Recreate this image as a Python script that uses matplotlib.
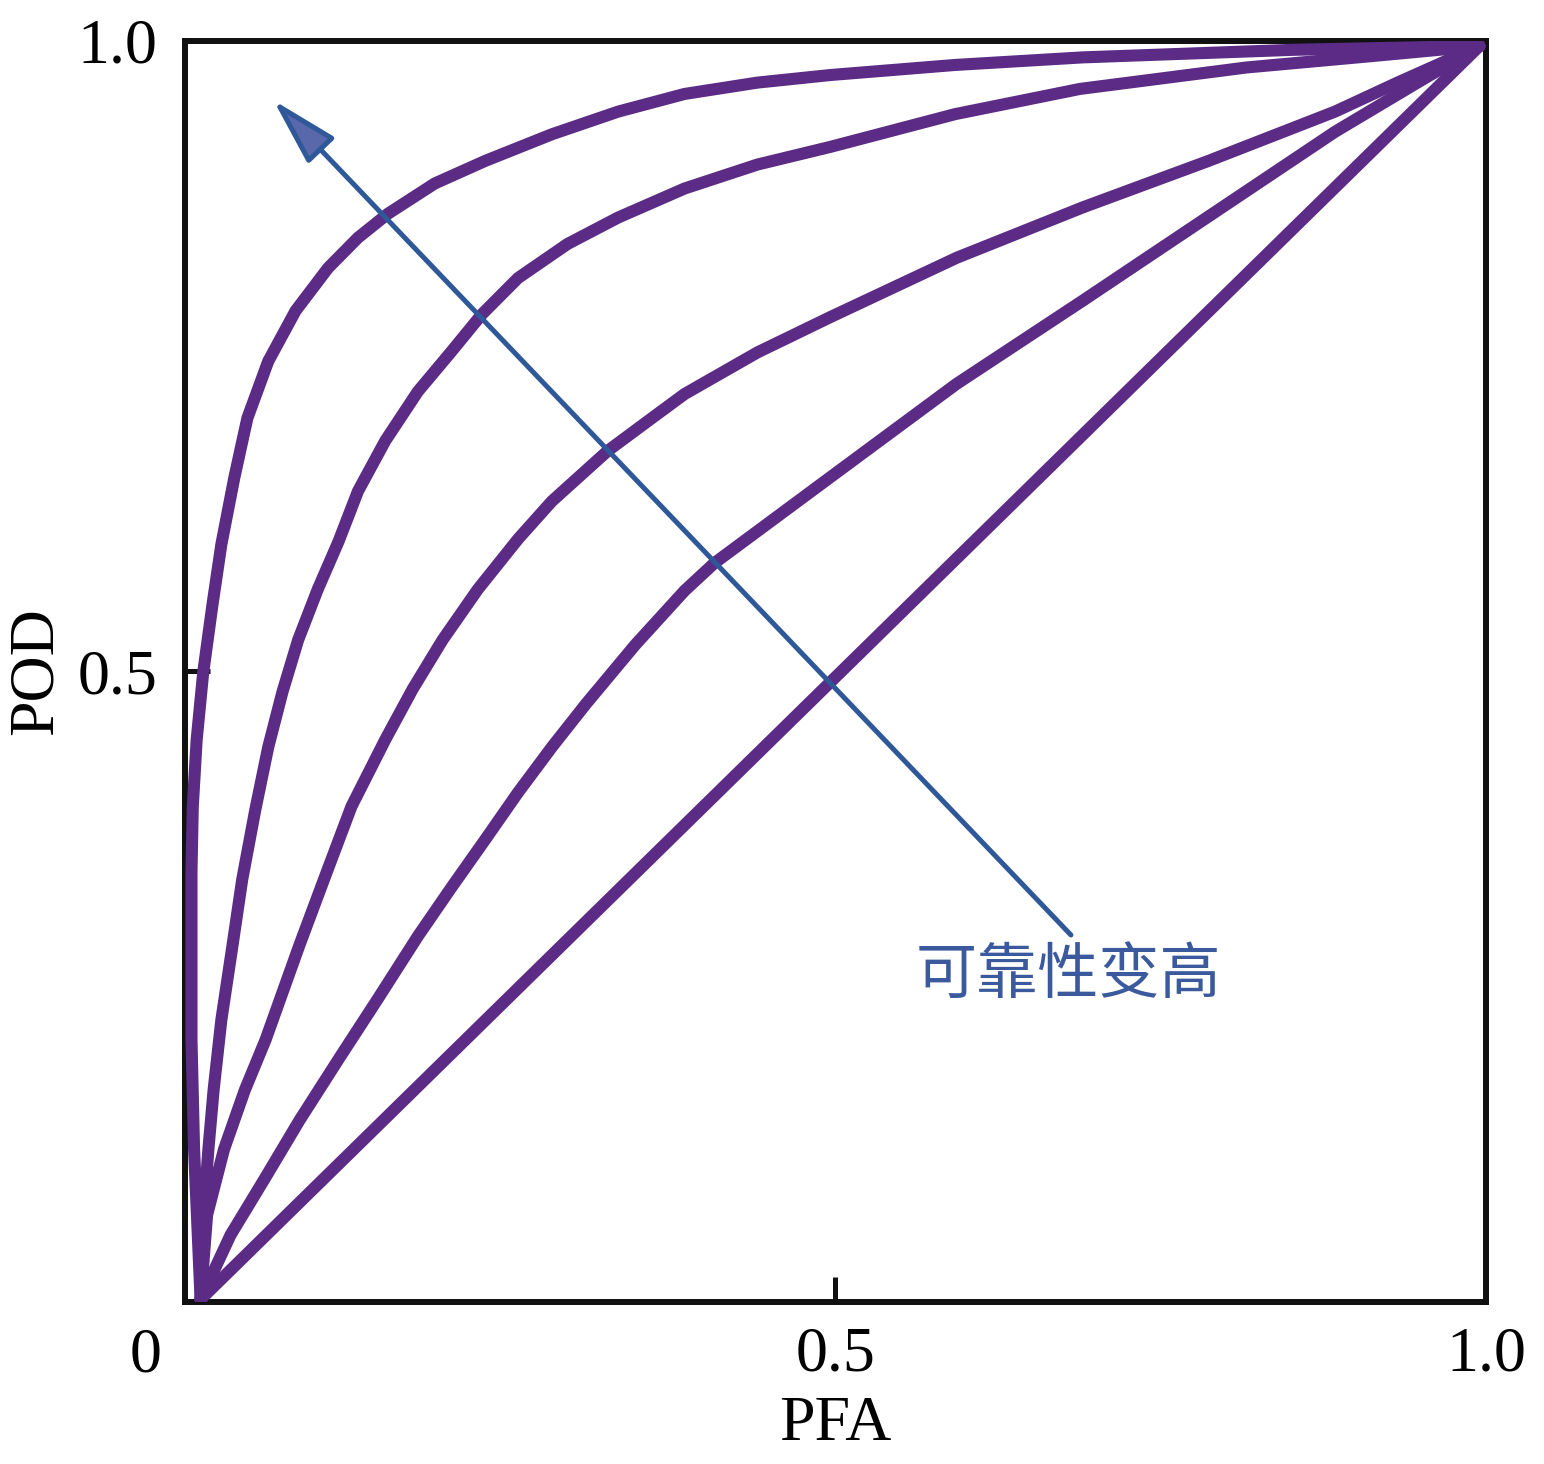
import matplotlib
matplotlib.use("Agg")
from matplotlib import pyplot as plt

plt.rcParams['font.family'] = ['Liberation Serif', 'Noto Sans CJK SC', 'DejaVu Sans']

# ROC 曲线
pfa_1 = [0.012, 0.007, 0.005, 0.005, 0.005, 0.006, 0.009, 0.014, 0.021, 0.028, 0.038, 0.048, 0.064, 0.085, 0.110,
         0.133, 0.156, 0.192, 0.231, 0.282, 0.333, 0.384, 0.440, 0.496, 0.592, 0.690, 0.852, 0.995]
pod_1 = [0.002, 0.121, 0.208, 0.287, 0.341, 0.393, 0.446, 0.499, 0.552, 0.601, 0.654, 0.701, 0.746, 0.786, 0.820,
         0.844, 0.863, 0.887, 0.905, 0.926, 0.944, 0.958, 0.967, 0.973, 0.981, 0.987, 0.993, 0.996]

pfa_2 = [0.012, 0.014, 0.018, 0.022, 0.028, 0.036, 0.044, 0.054, 0.064, 0.075, 0.087, 0.102, 0.118, 0.133, 0.154,
         0.179, 0.205, 0.228, 0.256, 0.294, 0.333, 0.384, 0.440, 0.496, 0.592, 0.688, 0.816, 0.912, 0.995]
pod_2 = [0.002, 0.065, 0.121, 0.168, 0.224, 0.279, 0.335, 0.390, 0.440, 0.484, 0.525, 0.565, 0.603, 0.643, 0.683,
         0.722, 0.754, 0.783, 0.812, 0.839, 0.860, 0.883, 0.902, 0.916, 0.942, 0.962, 0.979, 0.988, 0.996]

pfa_3 = [0.012, 0.017, 0.030, 0.046, 0.062, 0.088, 0.109, 0.128, 0.154, 0.175, 0.198, 0.225, 0.256, 0.282, 0.325,
         0.359, 0.384, 0.440, 0.496, 0.593, 0.690, 0.787, 0.884, 0.932, 0.995]
pod_3 = [0.002, 0.069, 0.121, 0.168, 0.208, 0.283, 0.341, 0.393, 0.446, 0.486, 0.525, 0.565, 0.605, 0.635, 0.675,
         0.701, 0.720, 0.753, 0.781, 0.828, 0.868, 0.905, 0.944, 0.967, 0.996]

pfa_4 = [0.012, 0.035, 0.062, 0.088, 0.119, 0.148, 0.179, 0.205, 0.231, 0.256, 0.282, 0.308, 0.346, 0.384, 0.407,
         0.496, 0.593, 0.690, 0.787, 0.884, 0.949, 0.995]
pod_4 = [0.002, 0.053, 0.099, 0.144, 0.194, 0.240, 0.290, 0.329, 0.367, 0.404, 0.440, 0.474, 0.521, 0.564, 0.586,
         0.654, 0.728, 0.794, 0.861, 0.928, 0.968, 0.996]

# 对角线（随机猜测）
pfa_5 = [0.012, 0.995]
pod_5 = [0.002, 0.996]

curves = [(pfa_1, pod_1), (pfa_2, pod_2), (pfa_3, pod_3), (pfa_4, pod_4), (pfa_5, pod_5)]

# 箭头：从右下指向左上
arrow_tail = (0.681, 0.291)
arrow_head = (0.068, 0.953)
arrow_text = "可靠性变高"

xticks = [0.5, 1.0]
yticks = [0.5, 1.0]
tick_labels = ["0.5", "1.0"]

fig = plt.figure(figsize=(15.44, 14.64), dpi=100)
ax = fig.add_axes([0.1198, 0.1107, 0.8426, 0.8613])

purple = '#5b2b86'
for xs, ys in curves:
    ax.plot(xs, ys, color=purple, lw=8.7, solid_capstyle='round', solid_joinstyle='round', zorder=3)

ax.annotate('', xy=arrow_head, xytext=arrow_tail,
            arrowprops=dict(arrowstyle='-|>,head_length=4.2,head_width=1.15',
                            mutation_scale=10, lw=3.6,
                            edgecolor='#2f5899', facecolor='#5868aa',
                            shrinkA=0, shrinkB=0),
            zorder=4)
ax.text(0.679, 0.259, arrow_text, transform=ax.transAxes, fontsize=44,
        color='#3b5a9e', ha='center', va='center',
        family=['Noto Sans CJK SC', 'DejaVu Sans'])

ax.set_xlim(0, 1)
ax.set_ylim(0, 1)
ax.set_xticks(xticks)
ax.set_xticklabels(tick_labels)
ax.set_yticks(yticks)
ax.set_yticklabels(tick_labels)
ax.tick_params(direction='in', length=18, width=3.6, labelsize=46, pad=18, color='#111111')
ax.tick_params(axis='y', pad=20)
ax.text(-0.03, -0.02, "0", transform=ax.transAxes, fontsize=46, ha='center', va='top')

for s in ax.spines.values():
    s.set_linewidth(4.3)
    s.set_color('#111111')

ax.set_xlabel("PFA", fontsize=46, labelpad=8)
ax.set_ylabel("POD", fontsize=46)
ax.yaxis.set_label_coords(-0.092, 0.5)

fig.savefig("out.png", dpi=100)
